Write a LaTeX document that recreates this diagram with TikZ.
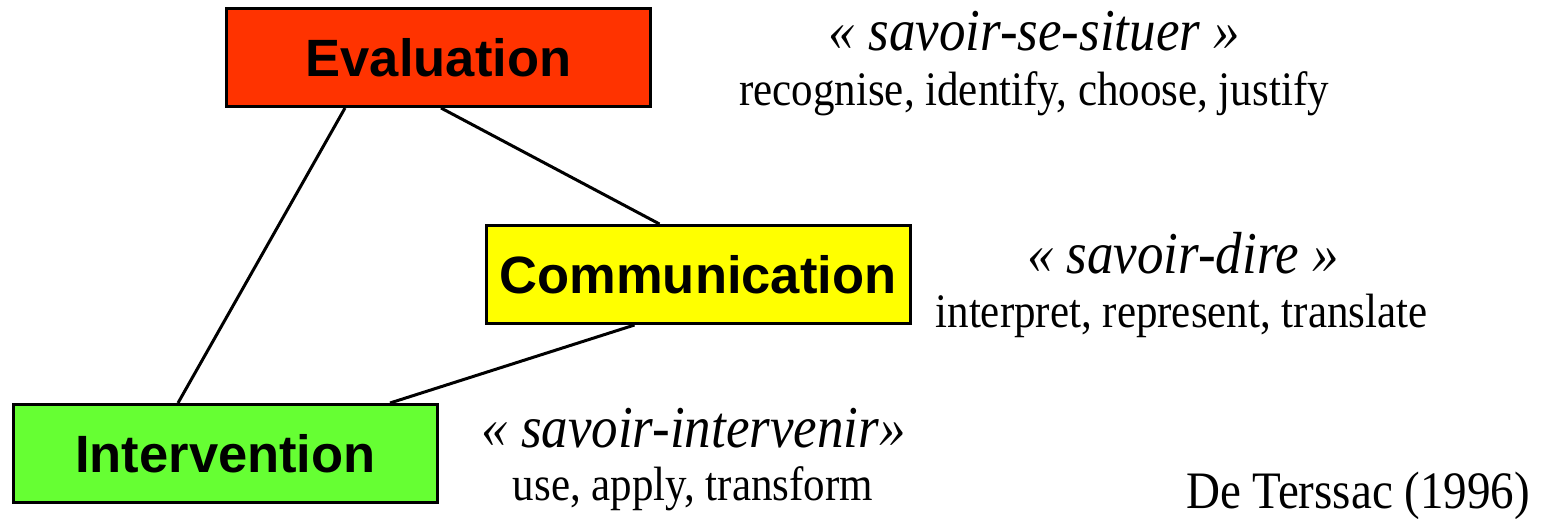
\documentclass[tikz,border=0pt]{standalone}
\usepackage{graphicx}
\usepackage{fontspec}
\setmainfont{Liberation Serif}
\newfontfamily\boxfont{Liberation Sans}
\definecolor{evalred}{HTML}{FF3300}
\definecolor{commyellow}{HTML}{FFFF00}
\definecolor{intgreen}{HTML}{66FF33}
% serif captions are set slightly taller than their natural shape
\newcommand\talltext[1]{\scalebox{1}[1.12]{#1}}
\begin{document}
\begin{tikzpicture}[x=1pt,y=-1pt,
  box/.style={draw=black, line width=3pt, minimum width=424pt, minimum height=98pt,
    inner sep=0pt, font=\boxfont\bfseries\fontsize{52.5}{60}\selectfont},
  link/.style={line width=3pt},
  skill/.style={anchor=base, inner sep=0pt, font=\itshape\fontsize{53}{60}\selectfont},
  verbs/.style={anchor=base, inner sep=0pt, font=\fontsize{43}{50}\selectfont},
  cite/.style={anchor=base, inner sep=0pt, font=\fontsize{47}{54}\selectfont}]
\useasboundingbox (0,0) rectangle (1547,519);

% the three competence boxes
\node[box, fill=evalred]    (ev) at (438.5,57.5)  {Evaluation};
\node[box, fill=commyellow] (co) at (698,274.5)   {Communication};
\node[box, fill=intgreen]   (in) at (225.5,453.5) {Intervention};

% triangle of links between them
\draw[link] ([xshift=120pt]ev.south west) -- ([xshift=166pt]in.north west);
\draw[link] ([xshift=216pt]ev.south west) -- ([xshift=175pt]co.north west);
\draw[link] ([xshift=150pt]co.south west) -- ([xshift=378pt]in.north west);

% descriptions
\node[skill] (evs) at (1034.5,51) {\talltext{« savoir-se-situer »}};
\node[verbs] (evv) at (1034,105)  {\talltext{recognise, identify, choose, justify}};
\node[skill] (cos) at (1183,273)  {\talltext{« savoir-dire »}};
\node[verbs] (cov) at (1181.5,327) {\talltext{interpret, represent, translate}};
\node[skill] (ins) at (693.5,447) {\talltext{« savoir-intervenir»}};
\node[verbs] (inv) at (693,500)   {\talltext{use, apply, transform}};
\node[cite]  (src) at (1358,508)  {\talltext{De Terssac (1996)}};
\end{tikzpicture}
\end{document}
